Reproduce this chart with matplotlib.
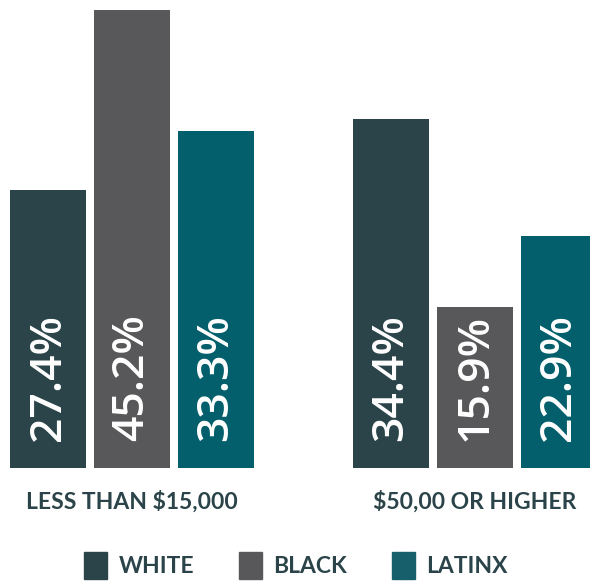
import matplotlib
matplotlib.use("Agg")
import matplotlib.pyplot as plt
from matplotlib.patches import Patch
import numpy as np

categories = ["LESS THAN $15,000", "$50,00 OR HIGHER"]
series = ["WHITE", "BLACK", "LATINX"]
white = [27.4, 34.4]
black = [45.2, 15.9]
latinx = [33.3, 22.9]
colors = ["#2a4449", "#58585a", "#025f6b"]
legend_colors = ["#2a4449", "#58585a", "#165f6b"]
text_color = "#2a4449"

W, H = 590, 582
fig = plt.figure(figsize=(W / 100, H / 100), dpi=100)
ax = fig.add_axes([0, (H - 468) / H, 1, (468 - 10) / H])

G = 343 / 84
group_x = np.array([0.0, G])
values = [white, black, latinx]
for s, (vals, c) in enumerate(zip(values, colors)):
    xs = group_x + (s - 1)
    ax.bar(xs, vals, width=76 / 84, color=c, label=series[s])
    for x, v in zip(xs, vals):
        ax.text(x, 2.7, f"{v:.1f}%", rotation=90, ha="center", va="bottom",
                color="white", fontsize=32, family="Open Sans", fontweight="semibold")

ax.set_xlim((0 - 132) / 84, (590 - 132) / 84)
ax.set_ylim(0, 45.2)
ax.set_xticks(group_x)
ax.set_xticklabels(categories, fontsize=16.5, fontweight="bold", family="Lato", color=text_color)
ax.tick_params(axis="x", length=0, pad=16)
ax.set_yticks([])
for sp in ax.spines.values():
    sp.set_visible(False)

handles = [Patch(color=c, label=l) for c, l in zip(legend_colors, series)]
leg = fig.legend(handles=handles, loc="lower center", bbox_to_anchor=(0.502, -0.03), ncol=3,
                 frameon=False, handlelength=1.0, handleheight=1.4, handletextpad=0.5,
                 columnspacing=1.95, prop={"family": "Lato", "weight": "bold", "size": 16.5})
for t in leg.get_texts():
    t.set_color(text_color)

fig.savefig("out.png", dpi=100)
